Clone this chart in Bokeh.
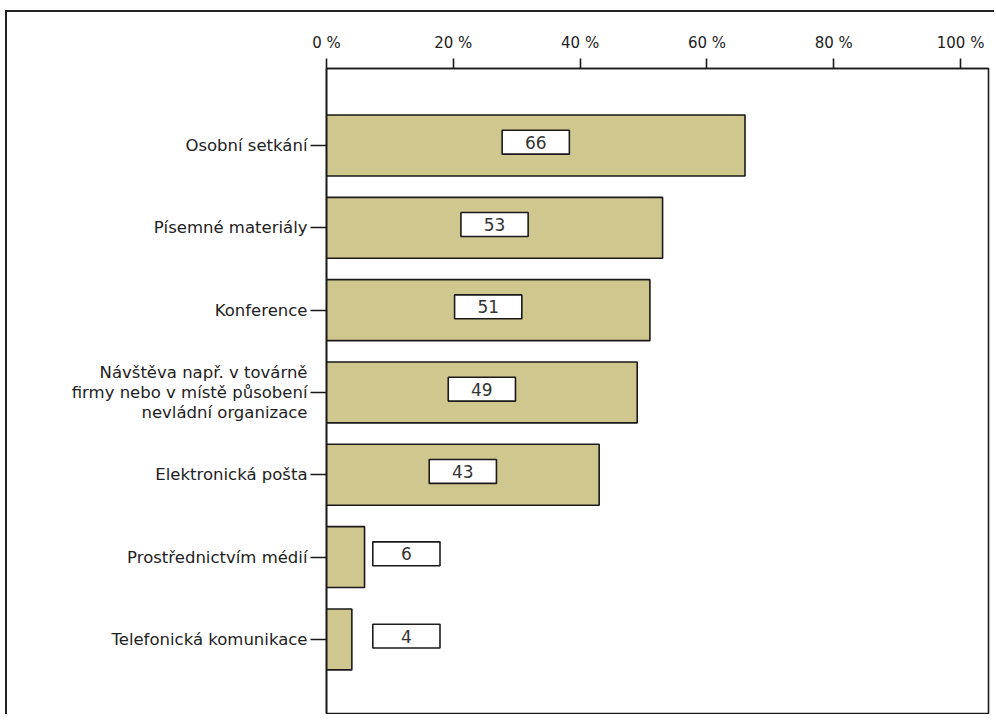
from bokeh.plotting import figure
from bokeh.models import Range1d, FixedTicker, ColumnDataSource
from bokeh.core.properties import value
from bokeh.embed import file_html
from bokeh.resources import INLINE

# Survey: preferred ways of communication (share of respondents, %)
categories = [
    "Osobní setkání",
    "Písemné materiály",
    "Konference",
    "Návštěva např. v továrně\nfirmy nebo v místě působení\nnevládní organizace",
    "Elektronická pošta",
    "Prostřednictvím médií",
    "Telefonická komunikace",
]
values = [66, 53, 51, 49, 43, 6, 4]
x_ticks = [0, 20, 40, 60, 80, 100]
x_tick_labels = ["0 %", "20 %", "40 %", "60 %", "80 %", "100 %"]

FONT = "DejaVu Sans"
BAR_COLOR = "#d0c78f"
INK = "#1a1a1a"

idx = list(range(len(categories)))
# value boxes sit in the middle of long bars, at a fixed spot beside short ones
label_x = [v / 2 if v >= 25 else 12.6 for v in values]

src = ColumnDataSource(dict(
    y=idx, v=values, lx=label_x, ly=[i - 0.04 for i in idx],
    txt=[str(v) for v in values],
))

p = figure(
    width=989, height=704,
    x_range=Range1d(0, 104.4), y_range=Range1d(6.90, -0.935),
    x_axis_location="above",
    output_backend="svg", toolbar_location=None, tools="",
    min_border_left=319, min_border_top=56, min_border_right=8, min_border_bottom=3,
)
p.margin = (10, 0, 0, 5)
p.styles = {"border-top": "2px solid #222", "border-left": "2px solid #222"}

p.background_fill_color = "white"
p.border_fill_color = "white"
p.outline_line_color = INK
p.outline_line_width = 1.6
p.xgrid.visible = False
p.ygrid.visible = False

p.hbar(y="y", right="v", left=0, height=0.74, source=src,
       fill_color=BAR_COLOR, line_color=INK, line_width=1.6)

p.rect(x="lx", y="ly", width=10.6, height=0.29, source=src,
       fill_color="white", line_color=INK, line_width=1.6)
p.text(x="lx", y="ly", text="txt", source=src,
       text_align="center", text_baseline="middle",
       text_font=value(FONT), text_font_size="17px", text_color="#333333")

xa = p.xaxis[0]
xa.ticker = FixedTicker(ticks=x_ticks)
xa.major_label_overrides = {t: l for t, l in zip(x_ticks, x_tick_labels)}
xa.major_tick_out = 10
xa.major_tick_in = 0
xa.minor_tick_out = 0
xa.minor_tick_in = 0
xa.major_label_standoff = 7
xa.axis_line_color = INK
xa.axis_line_width = 1.6
xa.major_tick_line_color = INK
xa.major_tick_line_width = 1.6
xa.major_label_text_font = FONT
xa.major_label_text_font_size = "15px"
xa.major_label_text_color = "#222222"

ya = p.yaxis[0]
ya.ticker = FixedTicker(ticks=idx)
ya.major_label_overrides = {i: c for i, c in zip(idx, categories)}
ya.major_tick_out = 16
ya.major_tick_in = 0
ya.minor_tick_out = 0
ya.minor_tick_in = 0
ya.major_label_standoff = 3
ya.axis_line_color = INK
ya.axis_line_width = 1.6
ya.major_tick_line_color = INK
ya.major_tick_line_width = 1.6
ya.major_label_text_font = FONT
ya.major_label_text_font_size = "16.5px"
ya.major_label_text_line_height = 1.05
ya.major_label_text_color = "#222222"

open("out.html", "w").write(file_html(p, INLINE))
